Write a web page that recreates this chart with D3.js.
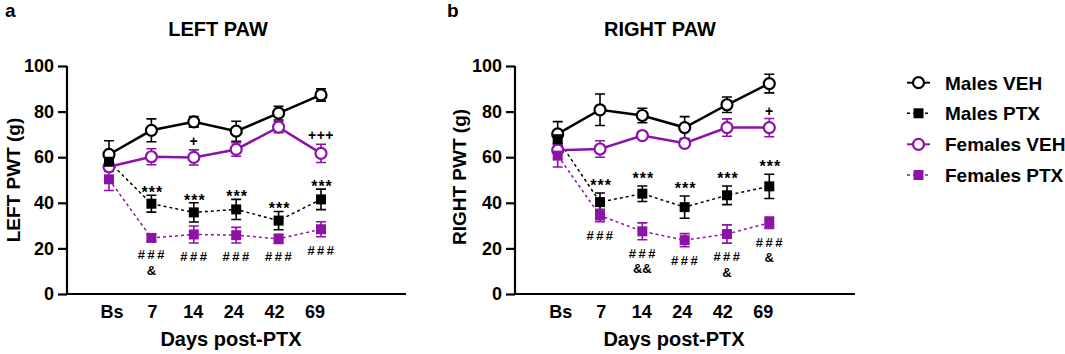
<!DOCTYPE html>
<html>
<head>
<meta charset="utf-8">
<script src="https://cdn.jsdelivr.net/npm/d3@7"></script>
<style>
  body { margin: 0; background: #fff; }
  svg { display: block; font-family: "Liberation Sans", Arial, sans-serif; font-weight: bold; }
</style>
</head>
<body>
<svg id="chart" width="1065" height="354"></svg>
<script>
// categories
const days = ['Bs', '7', '14', '24', '42', '69'];
const yTicks = [0, 20, 40, 60, 80, 100];

// LEFT PAW (mean, sem)
const leftMalesVeh      = [61.2, 71.8, 75.5, 71.4, 79.3, 87.3];
const leftMalesVehErr   = [6.0, 5.0, 2.3, 4.4, 3.0, 2.7];
const leftMalesPtx      = [58.0, 39.6, 35.8, 37.1, 32.2, 41.5];
const leftMalesPtxErr   = [2.5, 3.7, 4.2, 4.4, 4.0, 4.5];
const leftFemalesVeh    = [55.8, 60.2, 59.9, 63.4, 73.2, 61.7];
const leftFemalesVehErr = [2.0, 3.5, 3.3, 3.0, 2.5, 4.0];
const leftFemalesPtx    = [50.3, 24.6, 26.1, 25.8, 24.2, 28.4];
const leftFemalesPtxErr = [4.9, 1.5, 3.7, 3.4, 2.0, 3.3];

// RIGHT PAW (mean, sem)
const rightMalesVeh      = [70.2, 80.8, 78.3, 73.0, 83.0, 92.3];
const rightMalesVehErr   = [5.4, 6.9, 3.2, 4.8, 3.4, 4.1];
const rightMalesPtx      = [67.9, 40.3, 44.0, 38.1, 43.3, 47.2];
const rightMalesPtxErr   = [2.0, 4.0, 3.4, 4.9, 4.1, 5.3];
const rightFemalesVeh    = [63.1, 63.6, 69.5, 66.1, 73.0, 73.0];
const rightFemalesVehErr = [1.0, 3.6, 1.0, 1.5, 3.8, 4.0];
const rightFemalesPtx    = [60.7, 34.4, 27.5, 23.6, 26.3, 31.2];
const rightFemalesPtxErr = [5.0, 2.7, 3.7, 2.9, 4.0, 2.5];

// significance marks by day index
const leftStars   = ['', '***', '***', '***', '***', '***'];
const leftPlus    = ['', '', '+', '', '', '+++'];
const leftHash    = ['', '###', '###', '###', '###', '###'];
const leftAmp     = ['', '&', '', '', '', ''];
const rightStars  = ['', '***', '***', '***', '***', '***'];
const rightPlus   = ['', '', '', '', '', '+'];
const rightHash   = ['', '###', '###', '###', '###', '###'];
const rightAmp    = ['', '', '&&', '', '&', '&'];

const seriesNames = ['Males VEH', 'Males PTX', 'Females VEH', 'Females PTX'];

const PURPLE = '#8c13a6';
const BLACK = '#000';
const styles = [
  { color: BLACK,  dash: null,  width: 2.5, shape: 'circle' },
  { color: BLACK,  dash: '3,3', width: 1.5, shape: 'square' },
  { color: PURPLE, dash: null,  width: 2.5, shape: 'circle' },
  { color: PURPLE, dash: '3,3', width: 1.5, shape: 'square' }
];

const panels = [
  {
    letter: 'a', title: 'LEFT PAW', yLabel: 'LEFT PWT (g)',
    axisX: 67, endX: 406, firstX: 109, lastX: 321,
    titleX: 218, xLabelX: 231, yLabelX: 20, yLabelY: 180, letterX: 5,
    series: [
      [leftMalesVeh, leftMalesVehErr], [leftMalesPtx, leftMalesPtxErr],
      [leftFemalesVeh, leftFemalesVehErr], [leftFemalesPtx, leftFemalesPtxErr]
    ],
    stars: leftStars, plus: leftPlus, hash: leftHash, amp: leftAmp,
    starGap: 4, plusGap: 4
  },
  {
    letter: 'b', title: 'RIGHT PAW', yLabel: 'RIGHT PWT (g)',
    axisX: 515, endX: 855, firstX: 557.7, lastX: 769.3,
    titleX: 660, xLabelX: 674, yLabelX: 466, yLabelY: 177, letterX: 447,
    series: [
      [rightMalesVeh, rightMalesVehErr], [rightMalesPtx, rightMalesPtxErr],
      [rightFemalesVeh, rightFemalesVehErr], [rightFemalesPtx, rightFemalesPtxErr]
    ],
    stars: rightStars, plus: rightPlus, hash: rightHash, amp: rightAmp,
    starGap: 9, plusGap: 2
  }
];

const svg = d3.select('#chart');
const y = d3.scaleLinear().domain([0, 100]).range([294, 66]);

function drawMarker(g, shape, cx, cy, color) {
  if (shape === 'circle') {
    g.append('circle')
      .attr('cx', cx).attr('cy', cy).attr('r', 5.5)
      .attr('fill', '#fff').attr('stroke', color).attr('stroke-width', 2.2);
  } else {
    g.append('rect')
      .attr('x', cx - 5).attr('y', cy - 5)
      .attr('width', 10).attr('height', 10)
      .attr('fill', color);
  }
}

panels.forEach(p => {
  const x = d3.scalePoint().domain(days).range([p.firstX, p.lastX]);
  // tick labels sit a little inward of the end points
  const xLab = d3.scalePoint().domain(days).range([p.firstX + 3, p.lastX - 6]);
  const g = svg.append('g');

  // panel letter + title
  svg.append('text')
    .attr('x', p.letterX).attr('y', 17)
    .attr('font-size', '19px')
    .text(p.letter);

  svg.append('text')
    .attr('x', p.titleX).attr('y', 36)
    .attr('text-anchor', 'middle')
    .attr('font-size', '20px')
    .text(p.title);

  // Y axis
  const yAxis = g.append('g')
    .attr('transform', `translate(${p.axisX},0)`)
    .call(d3.axisLeft(y).tickValues(yTicks).tickSize(9).tickPadding(4));
  yAxis.select('.domain').attr('stroke-width', 2.2).attr('d', `M0,${y(100)}V${y(0)}`);
  yAxis.selectAll('.tick line').attr('stroke-width', 2.2);
  yAxis.selectAll('.tick text')
    .attr('font-size', '18px')
    .attr('font-family', '"Liberation Sans", Arial, sans-serif')
    .attr('font-weight', 'bold')
    .attr('fill', '#000');

  // X axis baseline (no ticks)
  g.append('line')
    .attr('x1', p.axisX - 1).attr('x2', p.endX)
    .attr('y1', y(0)).attr('y2', y(0))
    .attr('stroke', '#000').attr('stroke-width', 2.2);

  g.selectAll('.xlab')
    .data(days)
    .join('text')
    .attr('x', d => xLab(d))
    .attr('y', 318)
    .attr('text-anchor', 'middle')
    .attr('font-size', '18px')
    .text(d => d);

  // axis labels
  g.append('text')
    .attr('x', p.xLabelX).attr('y', 346)
    .attr('text-anchor', 'middle')
    .attr('font-size', '20px')
    .text('Days post-PTX');

  g.append('text')
    .attr('transform', `translate(${p.yLabelX},${p.yLabelY}) rotate(-90)`)
    .attr('text-anchor', 'middle')
    .attr('font-size', '19px')
    .text(p.yLabel);

  // lines
  p.series.forEach(([vals], si) => {
    const st = styles[si];
    const line = d3.line().x((d, i) => x(days[i])).y(d => y(d));
    g.append('path')
      .attr('d', line(vals))
      .attr('fill', 'none')
      .attr('stroke', st.color)
      .attr('stroke-width', st.width)
      .attr('stroke-dasharray', st.dash);
  });

  // error bars
  p.series.forEach(([vals, errs], si) => {
    const st = styles[si];
    vals.forEach((v, i) => {
      const cx = x(days[i]);
      const top = y(v + errs[i]), bot = y(v - errs[i]);
      g.append('path')
        .attr('d', `M${cx},${top}V${bot}M${cx - 5},${top}H${cx + 5}M${cx - 5},${bot}H${cx + 5}`)
        .attr('fill', 'none')
        .attr('stroke', st.color)
        .attr('stroke-width', 1.6);
    });
  });

  // markers: circles first, squares on top
  [0, 2, 1, 3].forEach(si => {
    const [vals] = p.series[si];
    vals.forEach((v, i) => drawMarker(g, styles[si].shape, x(days[i]), y(v), styles[si].color));
  });

  // significance marks
  const [mPtx, mPtxErr] = p.series[1];
  const [fVeh, fVehErr] = p.series[2];
  const [fPtx, fPtxErr] = p.series[3];
  days.forEach((d, i) => {
    const cx = x(d);
    if (p.stars[i]) {
      g.append('text')
        .attr('x', cx + 1).attr('y', y(mPtx[i] + mPtxErr[i]) - p.starGap + 7)
        .attr('text-anchor', 'middle')
        .attr('font-size', '16px')
        .attr('letter-spacing', '1px')
        .text(p.stars[i]);
    }
    if (p.plus[i]) {
      g.append('text')
        .attr('x', cx).attr('y', y(fVeh[i] + fVehErr[i]) - p.plusGap)
        .attr('text-anchor', 'middle')
        .attr('font-size', '14px')
        .attr('letter-spacing', '0.5px')
        .text(p.plus[i]);
    }
    const hashY = y(fPtx[i] - fPtxErr[i]) + 18;
    if (p.hash[i]) {
      g.append('text')
        .attr('x', cx + 1).attr('y', hashY)
        .attr('text-anchor', 'middle')
        .attr('font-size', '13px')
        .attr('letter-spacing', '2.5px')
        .text(p.hash[i]);
    }
    if (p.amp[i]) {
      g.append('text')
        .attr('x', cx).attr('y', hashY + 15.5)
        .attr('text-anchor', 'middle')
        .attr('font-size', '13px')
        .text(p.amp[i]);
    }
  });
});

// Legend
const legendRows = [82.7, 113.3, 144.3, 175];
const legend = svg.append('g');
seriesNames.forEach((name, i) => {
  const st = styles[i];
  const ly = legendRows[i];
  legend.append('line')
    .attr('x1', 907).attr('x2', 930)
    .attr('y1', ly).attr('y2', ly)
    .attr('stroke', st.color)
    .attr('stroke-width', st.width === 2.5 ? 2 : 1.5)
    .attr('stroke-dasharray', st.dash);
  drawMarker(legend, st.shape, 918.5, ly, st.color);
  legend.append('text')
    .attr('x', 945).attr('y', ly)
    .attr('dy', '0.36em')
    .attr('font-size', '19px')
    .text(name);
});
</script>
</body>
</html>
